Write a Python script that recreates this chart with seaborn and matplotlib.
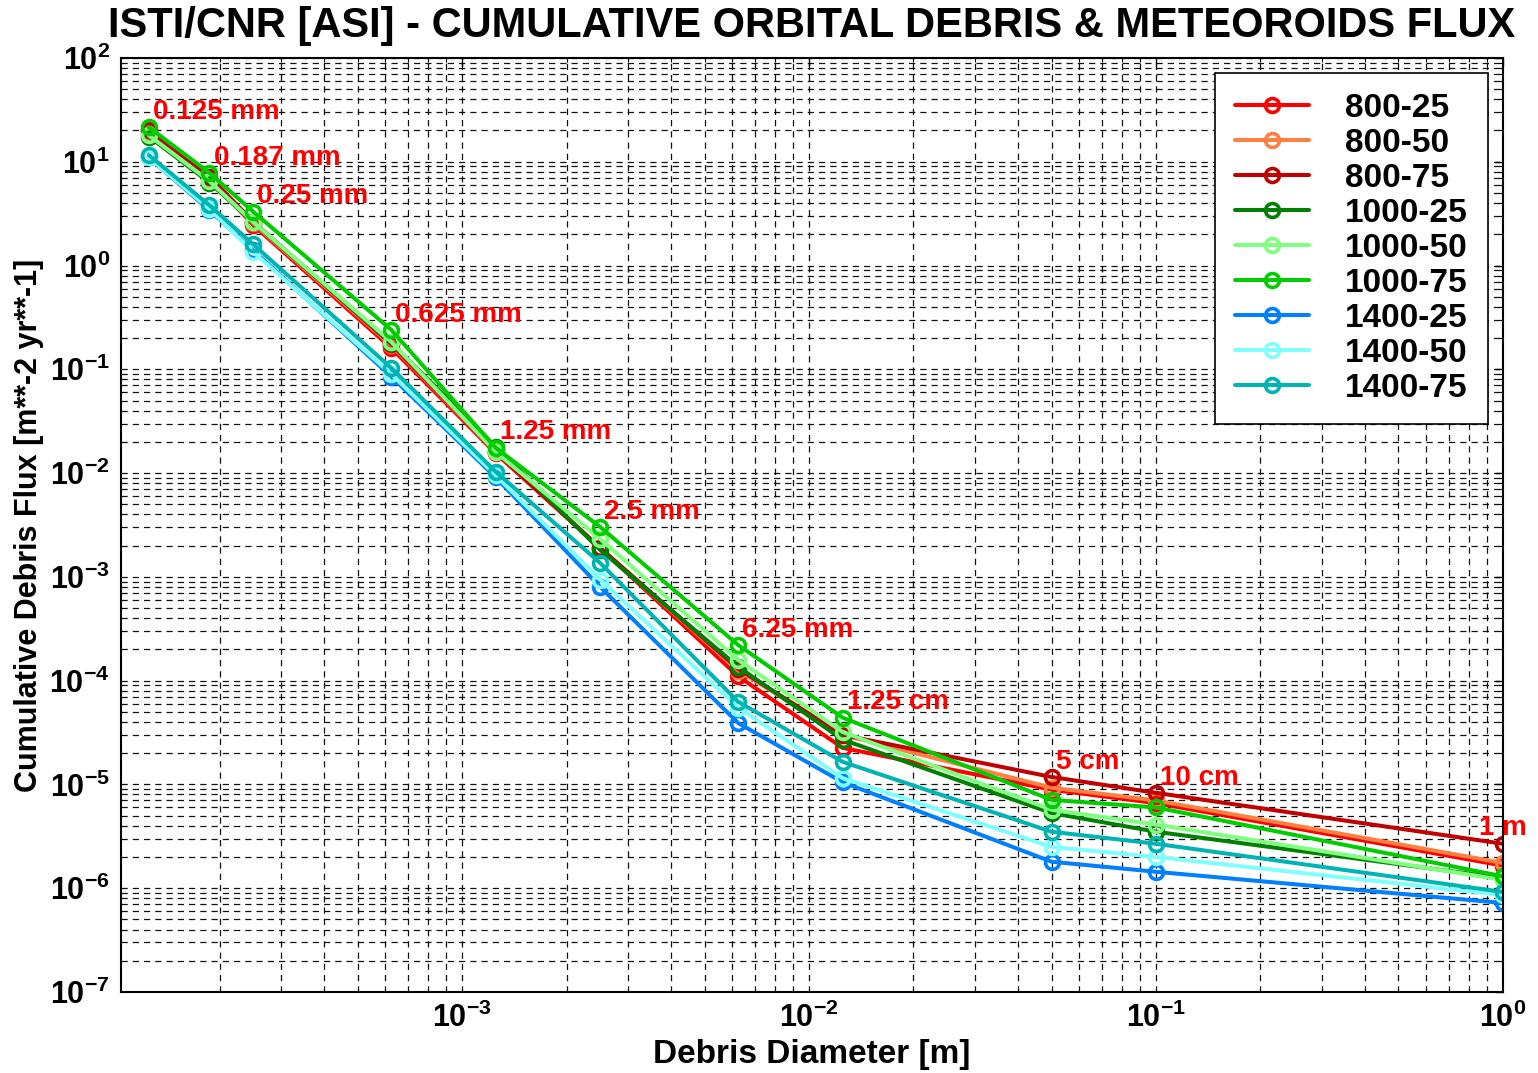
import math
import matplotlib
matplotlib.use('Agg')
import matplotlib.pyplot as plt
import matplotlib.ticker as mticker
import pandas as pd
import seaborn as sns

# Data
diameters = [1.25e-4, 1.87e-4, 2.5e-4, 6.25e-4, 1.25e-3, 2.5e-3, 6.25e-3, 1.25e-2, 5e-2, 1e-1, 1.0]
size_labels = ['0.125 mm', '0.187 mm', '0.25 mm', '0.625 mm', '1.25 mm', '2.5 mm',
               '6.25 mm', '1.25 cm', '5 cm', '10 cm', '1 m']

cases = ['800-25', '800-50', '800-75', '1000-25', '1000-50', '1000-75',
         '1400-25', '1400-50', '1400-75']

flux_800_25 = [20, 7.0, 2.45, 0.16, 0.0155, 0.0019, 1.1e-4, 2.25e-5, 8.9e-6, 6.6e-6, 1.65e-6]
flux_800_50 = [19, 6.8, 2.55, 0.17, 0.016, 0.0019, 1.25e-4, 3.0e-5, 9.3e-6, 7.0e-6, 1.75e-6]
flux_800_75 = [20, 7.2, 2.65, 0.175, 0.016, 0.0019, 1.3e-4, 3.0e-5, 1.18e-5, 8.3e-6, 2.68e-6]
flux_1000_25 = [17.5, 6.3, 2.6, 0.18, 0.0179, 0.00182, 1.36e-4, 2.7e-5, 5.3e-6, 3.5e-6, 1.25e-6]
flux_1000_50 = [18, 6.5, 2.63, 0.184, 0.016, 0.00232, 1.58e-4, 3.2e-5, 5.7e-6, 4.1e-6, 1.2e-6]
flux_1000_75 = [21.5, 7.8, 3.3, 0.24, 0.0175, 0.00303, 2.2e-4, 4.4e-5, 7.1e-6, 6.0e-6, 1.3e-6]
flux_1400_25 = [11, 3.4, 1.4, 0.085, 0.0091, 0.0008, 3.9e-5, 1.05e-5, 1.8e-6, 1.44e-6, 7.2e-7]
flux_1400_50 = [11, 3.5, 1.35, 0.09, 0.0095, 0.00094, 5.5e-5, 1.15e-5, 2.5e-6, 2.0e-6, 8.6e-7]
flux_1400_75 = [11.6, 3.8, 1.6, 0.103, 0.0103, 0.00136, 6.25e-5, 1.65e-5, 3.5e-6, 2.68e-6, 9.2e-7]

colors = ['#FF0000', '#FF8040', '#C00000', '#008000', '#80FF80', '#00CC00',
          '#0080FF', '#80FFFF', '#00B4B4']

all_flux = [flux_800_25, flux_800_50, flux_800_75, flux_1000_25, flux_1000_50,
            flux_1000_75, flux_1400_25, flux_1400_50, flux_1400_75]

df = pd.DataFrame({
    'diameter': diameters * len(cases),
    'flux': [v for series in all_flux for v in series],
    'case': [c for c in cases for _ in diameters],
})

sns.set_style('white')
plt.rcParams['font.family'] = ['Liberation Sans', 'DejaVu Sans']
plt.rcParams['text.color'] = 'black'
plt.rcParams['axes.labelcolor'] = 'black'
plt.rcParams['xtick.color'] = 'black'
plt.rcParams['ytick.color'] = 'black'
plt.rcParams['mathtext.fontset'] = 'custom'
plt.rcParams['mathtext.rm'] = 'Liberation Sans'
plt.rcParams['mathtext.bf'] = 'Liberation Sans:bold'
plt.rcParams['mathtext.default'] = 'bf'

fig = plt.figure(figsize=(15.38, 10.73), dpi=100)
ax = fig.add_axes([0.0787, 0.0755, 0.8985, 0.8705])
ax.set_xscale('log')
ax.set_yscale('log')

for case, color in zip(cases, colors):
    sub = df[df['case'] == case]
    sns.lineplot(data=sub, x='diameter', y='flux', color=color, label=case,
                 marker='o', markersize=10, markerfacecolor='none',
                 markeredgecolor=color, markeredgewidth=2.6, linewidth=2.9,
                 sort=False, ax=ax)

# Size annotations above the highest curve at each diameter
for i, (d, lab) in enumerate(zip(diameters, size_labels)):
    top = df[df['diameter'] == d]['flux'].max()
    last = i == len(diameters) - 1
    ax.annotate(lab, xy=(d, top), xytext=(0 if last else 3, 11),
                textcoords='offset points', ha='center' if last else 'left',
                va='center', color='red', fontsize=20, fontweight='bold',
                annotation_clip=False)

ax.set_xlim(1.04e-4, 1.0)
ax.set_ylim(1e-7, 1e2)

ax.xaxis.set_major_locator(mticker.FixedLocator([1e-3, 1e-2, 1e-1, 1.0]))
ax.xaxis.set_minor_locator(mticker.LogLocator(base=10, subs=range(1, 10), numticks=50))
ax.yaxis.set_major_locator(mticker.LogLocator(base=10, numticks=20))
ax.yaxis.set_minor_locator(mticker.LogLocator(base=10, subs=range(2, 10), numticks=50))
fmt = mticker.FuncFormatter(lambda v, p: r'$\mathbf{10^{%d}}$' % round(math.log10(v)))
ax.xaxis.set_major_formatter(fmt)
ax.yaxis.set_major_formatter(fmt)
ax.xaxis.set_minor_formatter(mticker.NullFormatter())
ax.yaxis.set_minor_formatter(mticker.NullFormatter())

ax.tick_params(axis='both', which='major', direction='in', length=6, width=1,
               labelsize=22, top=True, right=True, pad=8)
ax.tick_params(axis='both', which='minor', direction='in', length=3, width=0.8,
               top=True, right=True)

ax.grid(True, which='both', color='#111111', linestyle=(0, (5, 4)), linewidth=0.9)
for s in ax.spines.values():
    s.set_color('black')
    s.set_linewidth(1.5)

ax.set_xlabel('Debris Diameter [m]', fontsize=24, fontweight='bold', labelpad=3)
ax.set_ylabel('Cumulative Debris Flux [m**-2 yr**-1]', fontsize=22, fontweight='bold', labelpad=4)
ax.set_title('ISTI/CNR [ASI] - CUMULATIVE ORBITAL DEBRIS & METEOROIDS FLUX',
             fontsize=30, fontweight='bold', pad=15)

leg = ax.legend(loc='upper right', frameon=True, fancybox=False,
                framealpha=1, edgecolor='black', handlelength=2.2,
                labelspacing=0.12, borderaxespad=0.45, handletextpad=1.1,
                borderpad=0.6, prop={'weight': 'bold', 'size': 24})
leg.get_frame().set_linewidth(1.2)

fig.savefig('out.png', dpi=100, facecolor='white')
